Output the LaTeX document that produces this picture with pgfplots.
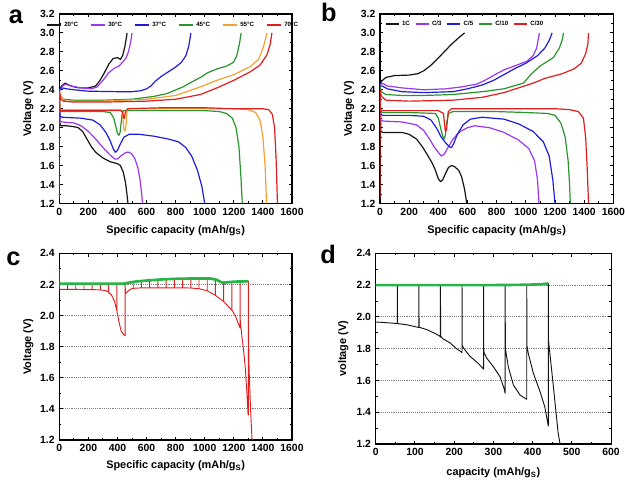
\documentclass[border=0pt]{standalone}
\usepackage{fontspec}
\setmainfont{Liberation Sans}
\usepackage{pgfplots}
\pgfplotsset{compat=1.18}
\definecolor{cblack}{RGB}{20,20,20}
\definecolor{cpurple}{RGB}{155,55,240}
\definecolor{cblue}{RGB}{30,30,215}
\definecolor{cgreen}{RGB}{40,150,45}
\definecolor{corange}{RGB}{245,160,50}
\definecolor{cred}{RGB}{225,30,30}
\definecolor{cgreenb}{RGB}{40,180,70}
\pgfplotsset{
  every axis/.append style={
    scale only axis,
    anchor=south west,
    axis line style={line width=0.8pt},
    every tick/.style={line width=0.7pt,black},
    major tick length=2.6pt, minor tick length=1.5pt,
    tick align=inside,
    /pgf/number format/assume math mode=true,
    /pgf/number format/1000 sep={},
    ticklabel style={font=\fontsize{7.8}{9}\selectfont\bfseries},
    label style={font=\fontsize{8.2}{9.5}\selectfont\bfseries},
    yticklabel style={/pgf/number format/.cd,fixed,fixed zerofill,precision=1},
    minor x tick num=1, minor y tick num=1,
    every axis plot/.append style={line width=0.9pt, line join=round},
  },
}
\begin{document}
\begin{tikzpicture}
\path[use as bounding box] (0,0) rectangle (468.75pt,363pt);
% ---------------- panel a ----------------
\begin{axis}[at={(44.5pt,210.4pt)}, width=174.5pt, height=142.1pt,
  xmin=0, xmax=1600, ymin=1.2, ymax=3.2,
  xtick={0,200,...,1600}, ytick={1.2,1.4,1.6,1.8,2.0,2.2,2.4,2.6,2.8,3.0,3.2},
  xlabel={Specific capacity (mAh/g\textsubscript{S})}, ylabel={Voltage (V)},
  xlabel style={at={(axis description cs:0.5,-0.142)},anchor=center},
  ylabel style={at={(axis description cs:-0.133,0.5)},anchor=center},
  legend columns=6,
  legend style={draw=none, fill=none, at={(0.49,0.942)}, anchor=center,
    font=\fontsize{4.6}{5}\selectfont\bfseries, inner sep=0pt,
    /tikz/every even column/.append style={column sep=7pt}},
  legend image code/.code={\draw[#1] (0cm,0cm) -- (0.38cm,0cm);},
]
% 20C
\addplot[cblack] coordinates {(0,2.38)(1,2.2)(3,2.05)(10,2.02)(50,2.02)(100,2.01)(130,2.0)(160,1.96)(190,1.88)(220,1.8)(250,1.74)(300,1.68)(350,1.64)(400,1.62)(420,1.6)(440,1.53)(455,1.42)(465,1.3)(472,1.2)};
\addlegendentry{20°C}
\addplot[cblack,forget plot] coordinates {(0,2.4)(15,2.44)(40,2.47)(80,2.44)(130,2.42)(200,2.42)(250,2.44)(280,2.5)(310,2.58)(340,2.67)(370,2.73)(400,2.74)(420,2.72)(435,2.76)(450,2.85)(460,2.94)(466,3.0)};
% 30C
\addplot[cpurple] coordinates {(0,2.38)(2,2.2)(5,2.07)(20,2.06)(100,2.05)(150,2.02)(200,1.96)(250,1.88)(300,1.79)(350,1.71)(380,1.67)(400,1.67)(430,1.71)(460,1.74)(480,1.74)(500,1.72)(520,1.67)(540,1.58)(555,1.45)(565,1.32)(572,1.2)};
\addlegendentry{30°C}
\addplot[cpurple,forget plot] coordinates {(0,2.38)(15,2.43)(40,2.46)(80,2.44)(150,2.42)(220,2.41)(260,2.43)(300,2.5)(340,2.58)(380,2.63)(410,2.65)(440,2.7)(460,2.74)(475,2.8)(490,2.9)(500,3.0)};
% 37C
\addplot[cblue] coordinates {(0,2.38)(2,2.2)(6,2.12)(20,2.11)(150,2.1)(230,2.08)(280,2.03)(320,1.95)(350,1.86)(370,1.78)(385,1.74)(400,1.76)(420,1.83)(445,1.9)(480,1.93)(550,1.93)(650,1.91)(750,1.88)(820,1.85)(870,1.79)(910,1.7)(950,1.55)(980,1.38)(1000,1.2)};
\addlegendentry{37°C}
\addplot[cblue,forget plot] coordinates {(0,2.41)(20,2.42)(50,2.41)(100,2.4)(200,2.385)(400,2.38)(500,2.38)(560,2.39)(600,2.41)(630,2.44)(660,2.49)(700,2.54)(750,2.59)(800,2.64)(840,2.69)(870,2.76)(890,2.86)(905,3.0)};
% 45C
\addplot[cgreen] coordinates {(0,2.38)(3,2.2)(10,2.17)(100,2.17)(300,2.17)(350,2.16)(375,2.1)(390,2.0)(400,1.94)(410,1.92)(418,1.95)(425,2.05)(432,2.15)(440,2.18)(500,2.18)(800,2.18)(1000,2.18)(1100,2.17)(1150,2.15)(1190,2.1)(1215,2.0)(1235,1.8)(1248,1.5)(1258,1.2)};
\addlegendentry{45°C}
\addplot[cgreen,forget plot] coordinates {(0,2.38)(10,2.33)(30,2.3)(100,2.29)(300,2.29)(500,2.3)(650,2.33)(740,2.36)(850,2.43)(920,2.49)(970,2.53)(1020,2.58)(1084,2.62)(1150,2.65)(1198,2.69)(1220,2.76)(1238,2.88)(1250,3.0)};
% 55C
\addplot[corange] coordinates {(0,2.38)(3,2.2)(10,2.19)(200,2.19)(420,2.19)(435,2.17)(440,2.05)(445,1.97)(455,1.97)(460,2.05)(465,2.18)(475,2.2)(700,2.2)(1000,2.2)(1200,2.2)(1300,2.19)(1350,2.16)(1380,2.08)(1400,1.9)(1415,1.6)(1425,1.2)};
\addlegendentry{55°C}
\addplot[corange,forget plot] coordinates {(0,2.38)(10,2.33)(40,2.28)(300,2.28)(600,2.3)(800,2.34)(969,2.43)(1084,2.5)(1200,2.56)(1313,2.645)(1370,2.72)(1405,2.86)(1428,3.0)};
% 70C
\addplot[cred] coordinates {(0,2.38)(3,2.2)(10,2.18)(200,2.18)(420,2.18)(435,2.17)(442,2.1)(448,2.1)(455,2.17)(470,2.2)(700,2.21)(1000,2.21)(1200,2.2)(1400,2.2)(1440,2.19)(1465,2.14)(1480,2.0)(1490,1.7)(1500,1.2)};
\addlegendentry{70°C}
\addplot[cred,forget plot] coordinates {(0,1.25)(0.5,2.38)(10,2.3)(30,2.28)(100,2.27)(300,2.27)(600,2.28)(800,2.3)(970,2.35)(1084,2.42)(1200,2.5)(1313,2.59)(1380,2.66)(1428,2.77)(1450,2.88)(1462,3.0)};
\end{axis}
% ---------------- panel b ----------------
\begin{axis}[at={(285pt,210.4pt)}, width=175pt, height=142.1pt,
  xmin=0, xmax=1600, ymin=1.2, ymax=3.2,
  xtick={0,200,...,1600}, ytick={1.2,1.4,1.6,1.8,2.0,2.2,2.4,2.6,2.8,3.0,3.2},
  xlabel={Specific capacity (mAh/g\textsubscript{S})}, ylabel={Voltage (V)},
  xlabel style={at={(axis description cs:0.5,-0.142)},anchor=center},
  ylabel style={at={(axis description cs:-0.133,0.5)},anchor=center},
  legend columns=5,
  legend style={draw=none, fill=none, at={(0.367,0.947)}, anchor=center,
    font=\fontsize{4.6}{5}\selectfont\bfseries, inner sep=0pt,
    /tikz/every even column/.append style={column sep=2pt}},
  legend image code/.code={\draw[#1] (0cm,0cm) -- (0.34cm,0cm);},
]
\addplot[cblack] coordinates {(0,2.45)(2,2.2)(6,1.96)(20,1.95)(150,1.95)(200,1.93)(250,1.88)(290,1.8)(330,1.7)(360,1.62)(380,1.55)(400,1.46)(415,1.43)(430,1.45)(450,1.52)(470,1.58)(490,1.6)(510,1.59)(540,1.55)(560,1.48)(580,1.35)(595,1.2)};
\addlegendentry{1C}
\addplot[cblack,forget plot] coordinates {(0,2.45)(10,2.49)(40,2.53)(100,2.55)(200,2.555)(260,2.57)(300,2.6)(350,2.66)(390,2.72)(440,2.8)(490,2.88)(540,2.95)(580,3.0)};
\addplot[cpurple] coordinates {(0,2.45)(2,2.2)(6,2.08)(20,2.07)(150,2.06)(250,2.03)(300,1.97)(340,1.88)(370,1.8)(400,1.74)(420,1.7)(440,1.72)(470,1.8)(500,1.88)(550,1.96)(600,2.0)(650,2.02)(750,2.0)(850,1.95)(950,1.87)(1020,1.78)(1060,1.65)(1080,1.45)(1090,1.2)};
\addlegendentry{C/3}
\addplot[cpurple,forget plot] coordinates {(0,2.45)(15,2.47)(50,2.44)(150,2.42)(300,2.4)(450,2.41)(560,2.43)(663,2.46)(720,2.5)(777,2.55)(850,2.61)(920,2.65)(1006,2.7)(1050,2.76)(1074,2.84)(1093,3.0)};
\addplot[cblue] coordinates {(0,2.45)(2,2.2)(6,2.14)(20,2.13)(200,2.13)(300,2.12)(350,2.08)(390,1.99)(420,1.9)(450,1.84)(475,1.8)(490,1.79)(505,1.83)(530,1.93)(570,2.03)(620,2.09)(700,2.11)(850,2.09)(950,2.04)(1050,1.96)(1120,1.85)(1160,1.7)(1185,1.45)(1200,1.2)};
\addlegendentry{C/5}
\addplot[cblue,forget plot] coordinates {(0,2.44)(15,2.44)(50,2.41)(150,2.38)(300,2.37)(500,2.38)(600,2.41)(700,2.45)(780,2.5)(850,2.56)(920,2.62)(1000,2.68)(1080,2.76)(1130,2.84)(1160,2.92)(1180,3.0)};
\addplot[cgreen] coordinates {(0,2.45)(2,2.2)(6,2.17)(20,2.16)(200,2.16)(380,2.15)(400,2.1)(415,2.0)(430,1.91)(440,1.88)(448,1.92)(458,2.05)(470,2.15)(500,2.17)(800,2.17)(1000,2.16)(1150,2.15)(1200,2.13)(1240,2.05)(1270,1.9)(1290,1.65)(1300,1.4)(1305,1.2)};
\addlegendentry{C/10}
\addplot[cgreen,forget plot] coordinates {(0,2.42)(10,2.38)(40,2.35)(150,2.34)(300,2.34)(500,2.35)(700,2.38)(850,2.41)(983,2.47)(1040,2.57)(1097,2.65)(1189,2.74)(1230,2.84)(1250,2.93)(1258,3.0)};
\addplot[cred] coordinates {(0,2.4)(3,2.2)(10,2.18)(400,2.18)(435,2.15)(442,2.05)(447,1.97)(455,1.97)(460,2.05)(468,2.17)(490,2.2)(800,2.2)(1200,2.2)(1300,2.19)(1360,2.17)(1395,2.1)(1410,1.9)(1420,1.6)(1430,1.2)};
\addlegendentry{C/30}
\addplot[cred,forget plot] coordinates {(0,1.25)(0.5,2.4)(10,2.33)(40,2.29)(200,2.28)(500,2.29)(700,2.32)(850,2.37)(950,2.42)(1050,2.47)(1130,2.52)(1250,2.57)(1330,2.62)(1380,2.68)(1410,2.78)(1425,2.88)(1430,3.0)};
\end{axis}
% ---------------- panel c ----------------
\begin{axis}[at={(44.5pt,33pt)}, width=174.5pt, height=140pt,
  xmin=0, xmax=1600, ymin=1.2, ymax=2.4,
  xtick={0,200,...,1600}, ytick={1.2,1.4,1.6,1.8,2.0,2.2,2.4},
  ymajorgrids, grid style={densely dotted, gray, line width=0.6pt},
  xlabel={Specific capacity (mAh/g\textsubscript{S})}, ylabel={Voltage (V)},
  xlabel style={at={(axis description cs:0.5,-0.139)},anchor=center},
  ylabel style={at={(axis description cs:-0.133,0.5)},anchor=center},
]
\addplot[cred, line width=0.7pt] coordinates {(0,2.3)(0,2.168)
(56.5,2.168)(56.5,2.205)(56.5,2.168)
(113,2.168)(113,2.205)(113,2.168)
(169.5,2.167)(169.5,2.205)(169.5,2.167)
(226,2.167)(226,2.205)(226,2.167)
(282.5,2.165)(282.5,2.205)(282.5,2.165)
(320,2.16)(339,2.15)(339,2.205)(339,2.15)
(360,2.13)(380,2.09)(396,2.03)(396,2.205)(396,2.03)
(410,1.96)(425,1.9)(440,1.88)(452,1.87)(452,2.207)(455,2.14)(470,2.155)(490,2.17)
(508.5,2.175)(508.5,2.215)(508.5,2.175)
(565,2.178)(565,2.222)(565,2.178)
(621.5,2.178)(621.5,2.228)(621.5,2.178)
(678,2.178)(678,2.232)(678,2.178)
(734.5,2.178)(734.5,2.234)(734.5,2.178)
(791,2.178)(791,2.236)(791,2.178)
(847.5,2.178)(847.5,2.237)(847.5,2.178)
(904,2.177)(904,2.238)(904,2.177)
(960.5,2.172)(960.5,2.238)(960.5,2.172)
(1017,2.16)(1017,2.238)(1017,2.16)
(1073.5,2.13)(1073.5,2.232)(1073.5,2.13)
(1130,2.09)(1130,2.212)(1130,2.09)
(1186.5,2.035)(1186.5,2.217)(1186.5,2.035)
(1210,2.0)(1230,1.95)(1243,1.92)(1243,2.218)(1244,1.97)
(1255,1.87)(1270,1.75)(1280,1.65)(1290,1.5)(1298,1.36)(1300,1.36)(1300,2.22)
(1301,1.9)(1305,1.65)(1315,1.4)(1325,1.2)};
\addplot[cgreenb, line width=2pt] coordinates {(0,2.205)(200,2.205)(440,2.205)(470,2.21)(520,2.218)(600,2.225)(700,2.232)(800,2.236)(900,2.238)(1040,2.238)(1080,2.23)(1120,2.212)(1150,2.213)(1200,2.218)(1300,2.22)};
\end{axis}
% ---------------- panel d ----------------
\begin{axis}[at={(281.8pt,30pt)}, width=176.5pt, height=143pt,
  xmin=0, xmax=600, ymin=1.2, ymax=2.4,
  xtick={0,100,...,600}, ytick={1.2,1.4,1.6,1.8,2.0,2.2,2.4},
  ymajorgrids, grid style={densely dotted, gray, line width=0.6pt},
  xlabel={capacity (mAh/g\textsubscript{S})}, ylabel={voltage (V)},
  xlabel style={at={(axis description cs:0.5,-0.15)},anchor=center},
  ylabel style={at={(axis description cs:-0.138,0.5)},anchor=center},
]
\addplot[cblack, line width=0.7pt] coordinates {(0,1.968)(30,1.963)(55,1.958)(55,2.2)(55.5,1.958)(80,1.95)(110,1.933)(110,2.2)(110.5,1.935)(130,1.92)(150,1.897)(163,1.88)(165,1.872)(165,2.2)(165.5,1.88)(170,1.864)(189,1.837)(206,1.80)(218,1.78)(220,1.775)(220,2.2)(220.5,1.82)(225,1.80)(240,1.753)(257,1.717)(270,1.685)(275,1.671)(275,2.2)(275.5,1.78)(283,1.74)(300,1.686)(317,1.623)(327,1.55)(330,1.519)(330,2.2)(330.5,1.8)(338,1.686)(351,1.571)(368,1.508)(385,1.481)(385,2.2)(385.5,1.82)(389,1.77)(402,1.644)(419,1.529)(431,1.434)(438,1.34)(440,1.313)(440,2.21)(440.5,1.85)(444,1.77)(453,1.56)(465,1.27)(470,1.2)};
\addplot[cgreenb, line width=2pt] coordinates {(0,2.2)(100,2.2)(200,2.2)(300,2.2)(380,2.202)(420,2.205)(440,2.21)};
\end{axis}
% panel letters
\node[anchor=base, font=\fontsize{19}{20}\selectfont\bfseries] at (12pt,345.7pt) {a};
\node[anchor=base, font=\fontsize{19}{20}\selectfont\bfseries] at (246.7pt,346.5pt) {b};
\node[anchor=base, font=\fontsize{19}{20}\selectfont\bfseries] at (10.1pt,164.2pt) {c};
\node[anchor=base, font=\fontsize{19}{20}\selectfont\bfseries] at (246pt,165.7pt) {d};
\end{tikzpicture}
\end{document}
